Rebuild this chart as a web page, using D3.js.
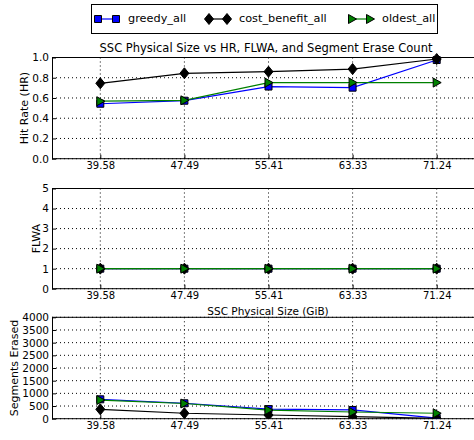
<!DOCTYPE html>
<html>
<head>
<meta charset="utf-8">
<script src="https://cdn.jsdelivr.net/npm/d3@7"></script>
<style>
  html, body { margin: 0; padding: 0; background: #fff; }
  svg { display: block; font-family: "DejaVu Sans", sans-serif; }
</style>
</head>
<body>
<svg id="chart" width="474" height="440"></svg>
<script>
// SSC physical sizes (GiB) on the shared x axis
const sizes = [39.58, 47.49, 55.41, 63.33, 71.24];

// Hit rate per policy
const hrGreedy = [0.543, 0.573, 0.713, 0.702, 0.975];
const hrCostBenefit = [0.745, 0.844, 0.860, 0.886, 0.985];
const hrOldest = [0.568, 0.577, 0.752, 0.752, 0.752];

// Flash write amplification per policy
const flwaGreedy = [1, 1, 1, 1, 1];
const flwaCostBenefit = [1, 1, 1, 1, 1];
const flwaOldest = [1, 1, 1, 1, 1];

// Segments erased per policy
const erasedGreedy = [765, 610, 380, 345, 25];
const erasedCostBenefit = [370, 215, 145, 80, 10];
const erasedOldest = [735, 600, 340, 265, 215];

const policyNames = ["greedy_all", "cost_benefit_all", "oldest_all"];
const policyColors = ["#0000ff", "#000000", "#008000"];
const policyMarkers = ["square", "diamond", "triangle"];

const hrTicks = [0.0, 0.2, 0.4, 0.6, 0.8, 1.0];
const flwaTicks = [0, 1, 2, 3, 4, 5];
const erasedTicks = [0, 500, 1000, 1500, 2000, 2500, 3000, 3500, 4000];

const svg = d3.select("#chart");

const plotLeft = 52, plotRight = 484;
const x = d3.scalePoint().domain(sizes).range([100.3, 436.7]);

const panels = [
  { top: 57.5, bottom: 158.7, domain: [0, 1], ticks: hrTicks, fmt: d3.format(".1f"),
    series: [hrGreedy, hrCostBenefit, hrOldest], label: "Hit Rate (HR)", labelX: 25 },
  { top: 188.5, bottom: 288.7, domain: [0, 5], ticks: flwaTicks, fmt: d3.format("d"),
    series: [flwaGreedy, flwaCostBenefit, flwaOldest], label: "FLWA", labelX: 37 },
  { top: 317.3, bottom: 418.7, domain: [0, 4000], ticks: erasedTicks, fmt: d3.format("d"),
    series: [erasedGreedy, erasedCostBenefit, erasedOldest], label: "Segments Erased", labelX: 15 }
];

function markerPath(kind) {
  if (kind === "square") return "M-3.5,-3.5H3.5V3.5H-3.5Z";
  if (kind === "diamond") return "M0,-5.5L4.5,0L0,5.5L-4.5,0Z";
  return "M-3.5,-4.5L4.5,0L-3.5,4.5Z";
}

panels.forEach((p) => {
  const y = d3.scaleLinear().domain(p.domain).range([p.bottom, p.top]);
  const g = svg.append("g");

  // dotted grid
  g.selectAll(".hgrid").data(p.ticks).join("line")
    .attr("x1", plotLeft).attr("x2", plotRight)
    .attr("y1", d => y(d)).attr("y2", d => y(d))
    .attr("stroke", "#000").attr("stroke-width", 1)
    .attr("stroke-dasharray", "1,3");
  g.selectAll(".vgrid").data(sizes).join("line")
    .attr("x1", d => x(d)).attr("x2", d => x(d))
    .attr("y1", p.top).attr("y2", p.bottom)
    .attr("stroke", "#000").attr("stroke-width", 1)
    .attr("stroke-dasharray", "1,3");

  // axes with inward ticks
  const yAxis = d3.axisLeft(y).tickValues(p.ticks).tickFormat(p.fmt).tickSizeInner(-4).tickSizeOuter(0).tickPadding(3);
  g.append("g").attr("transform", `translate(${plotLeft},0)`).call(yAxis)
    .call(a => a.select(".domain").remove())
    .call(a => a.selectAll("text").attr("font-size", 10.5).attr("font-family", "DejaVu Sans").attr("fill", "#000"));
  const xAxis = d3.axisBottom(x).tickFormat(d3.format(".2f")).tickSizeInner(-4).tickSizeOuter(0).tickPadding(3);
  g.append("g").attr("transform", `translate(0,${p.bottom})`).call(xAxis)
    .call(a => a.select(".domain").remove())
    .call(a => a.selectAll("text").attr("font-size", 10).attr("font-family", "DejaVu Sans").attr("fill", "#000"));

  // frame
  g.append("rect").attr("x", plotLeft + 0.5).attr("y", p.top)
    .attr("width", plotRight - plotLeft).attr("height", p.bottom - p.top)
    .attr("fill", "none").attr("stroke", "#000").attr("stroke-width", 1);

  // series
  const clipId = "clip" + Math.round(p.top);
  svg.append("clipPath").attr("id", clipId).append("rect")
    .attr("x", plotLeft - 10).attr("y", p.top - 10).attr("width", plotRight - plotLeft + 20).attr("height", p.bottom - p.top + 10);
  const sg = g.append("g").attr("clip-path", `url(#${clipId})`);
  p.series.forEach((vals, i) => {
    const line = d3.line().x((d, j) => x(sizes[j])).y(d => y(d));
    sg.append("path").datum(vals).attr("d", line)
      .attr("fill", "none").attr("stroke", policyColors[i]).attr("stroke-width", 1.2);
  });
  p.series.forEach((vals, i) => {
    sg.selectAll(".m" + i).data(vals).join("path")
      .attr("transform", (d, j) => `translate(${x(sizes[j])},${y(d)})`)
      .attr("d", markerPath(policyMarkers[i]))
      .attr("fill", policyColors[i]).attr("stroke", "#000").attr("stroke-width", 1);
  });

  // y label
  g.append("text").attr("transform", `translate(${p.labelX},${(p.top + p.bottom) / 2}) rotate(-90)`)
    .attr("text-anchor", "middle").attr("dominant-baseline", "middle")
    .attr("font-size", 11).text(p.label);
});

// title and shared x label
svg.append("text").attr("x", 266).attr("y", 52).attr("text-anchor", "middle")
  .attr("font-size", 11.5).text("SSC Physical Size vs HR, FLWA, and Segment Erase Count");
svg.append("text").attr("x", 268).attr("y", 315).attr("text-anchor", "middle")
  .attr("font-size", 10.5).text("SSC Physical Size (GiB)");

// legend
const legend = svg.append("g");
legend.append("rect").attr("x", 91.5).attr("y", 4.5).attr("width", 346).attr("height", 29)
  .attr("fill", "#fff").attr("stroke", "#000").attr("stroke-width", 1);
const legendX = [96, 207, 350];
policyNames.forEach((name, i) => {
  const lg = legend.append("g").attr("transform", `translate(${legendX[i]},19)`);
  lg.append("line").attr("x1", 2).attr("x2", 20).attr("y1", 0).attr("y2", 0)
    .attr("stroke", policyColors[i]).attr("stroke-width", 1.2);
  [2, 20].forEach(mx => {
    lg.append("path").attr("transform", `translate(${mx},0)`).attr("d", markerPath(policyMarkers[i]))
      .attr("fill", policyColors[i]).attr("stroke", "#000").attr("stroke-width", 1);
  });
  lg.append("text").attr("x", 32).attr("y", 0).attr("dominant-baseline", "middle")
    .attr("font-size", 11.3).text(name);
});
</script>
</body>
</html>
